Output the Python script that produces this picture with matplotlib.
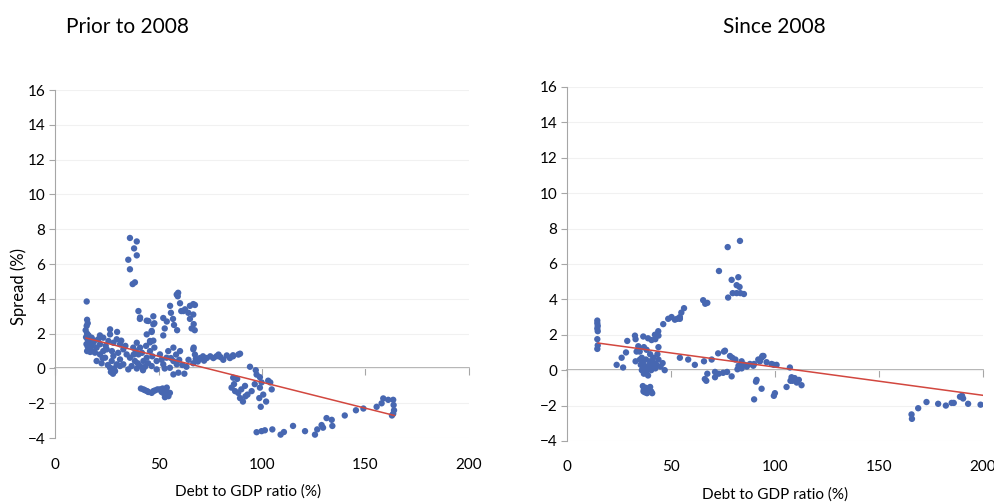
import numpy as np
import matplotlib.pyplot as plt

plt.rcParams['font.family'] = ['Lato', 'DejaVu Sans']

# Prior to 2008: (debt/GDP %, spread %)
prior_col15 = [(15.3, 3.85), (15.5, 2.8), (15.8, 2.6), (15.3, 2.45), (14.8, 2.2), (15.5, 2.0),
               (16.2, 1.9), (15.0, 1.8), (15.8, 1.65), (16.5, 1.5), (15.2, 1.4), (15.8, 1.25),
               (16.4, 1.1), (15.5, 1.0), (17.0, 0.95)]
prior_low = [(17.7, 1.77), (18.5, 1.48), (17.7, 1.29), (19.3, 0.91), (20.1, 1.2), (20.1, 0.43),
             (20.9, 1.68), (21.7, 1.39), (21.7, 0.81), (21.7, 1.9), (23.3, 1.77), (23.3, 1.0),
             (24.2, 0.62), (25.0, 1.1), (25.8, 1.58), (26.6, 1.96), (26.6, 2.25), (26.6, 0.04),
             (27.4, 0.43), (28.2, 1.48), (28.2, 0.72), (29.0, -0.15), (29.8, 1.68), (29.8, 0.24),
             (31.4, 1.39), (31.4, 0.52), (31.4, 0.14), (33.0, 1.1), (33.0, 0.24), (34.6, 0.81),
             (35.4, -0.05), (36.2, 0.62), (37.0, 0.14), (22.5, 0.3), (24.5, 1.3), (27.5, 1.0),
             (30.5, 0.9), (32.0, 1.6), (34.0, 1.3), (19.0, 1.6), (18.0, 1.0), (30.0, 2.1),
             (28.5, 0.0), (25.5, 0.2), (23.0, 0.6), (27.0, -0.2), (28.0, -0.3)]
prior_mid = [(37.8, 1.2), (39.5, 1.48), (41.1, 1.2), (40.3, 0.81), (38.6, 0.43), (41.1, 0.14),
             (42.7, 0.43), (44.3, 0.62), (45.9, 1.0), (45.9, 1.58), (44.3, 1.96), (46.7, 2.16),
             (47.5, 2.54), (41.1, 2.93), (45.1, 2.73), (49.1, 0.43), (46.7, 0.14), (49.1, -0.05),
             (39.0, 1.0), (40.0, 0.3), (42.0, 0.9), (43.5, 0.1), (44.0, 1.3), (47.0, 0.7),
             (48.0, 1.2), (38.0, 0.8), (39.5, 0.0), (42.5, -0.1), (45.0, 0.3)]
prior_peak = [(36.2, 7.5), (39.5, 7.3), (38.2, 6.9), (39.5, 6.5), (35.4, 6.25), (36.2, 5.7),
              (38.6, 4.95), (37.5, 4.85)]
prior_up = [(40.3, 3.3), (41.0, 2.85), (44.3, 2.75), (47.5, 3.0), (48.0, 2.6), (46.7, 2.1),
            (45.9, 1.5), (47.5, 1.6), (52.3, 2.9), (52.3, 1.9), (53.0, 2.3), (54.0, 2.7),
            (55.6, 3.6), (56.0, 3.2), (57.0, 2.85), (58.8, 4.25), (59.5, 4.35), (59.3, 4.15),
            (60.4, 3.75), (61.0, 3.3), (62.8, 3.4), (64.4, 3.2), (65.2, 2.85), (66.0, 2.3),
            (67.6, 3.65), (66.8, 3.1), (57.5, 2.5), (59.0, 2.2), (62.0, 3.3), (65.2, 3.6),
            (66.8, 3.7), (67.0, 2.55), (67.5, 2.2)]
prior_zero = [(50.7, 0.81), (52.3, 0.24), (53.9, 0.62), (55.5, 0.04), (57.2, 0.43), (58.8, 0.24),
              (60.4, 1.0), (59.6, -0.24), (57.2, -0.34), (54.7, 1.0), (57.2, 1.2), (58.5, 0.8),
              (51.5, 0.5), (53.0, 0.0), (56.0, 0.6), (60.0, 0.5), (61.5, 0.2), (62.5, -0.3),
              (63.5, 0.1), (64.5, 0.5)]
prior_neg = [(41.5, -1.15), (42.7, -1.2), (43.5, -1.25), (44.5, -1.3), (45.1, -1.35), (46.7, -1.4),
             (47.5, -1.3), (48.3, -1.26), (49.5, -1.2), (50.7, -1.2), (51.5, -1.35), (52.3, -1.4),
             (53.1, -1.65), (53.9, -1.3), (54.8, -1.59), (55.5, -1.4), (54.0, -1.1), (52.0, -1.15)]
prior_band = [(66.8, 1.1), (67.6, 0.8), (66.8, 0.3), (68.0, 0.55), (70.0, 0.6), (71.5, 0.7),
              (73.3, 0.6), (75.0, 0.7), (76.5, 0.6), (78.0, 0.7), (79.0, 0.8), (80.0, 0.65),
              (81.3, 0.5), (83.0, 0.75), (84.5, 0.6), (86.0, 0.7), (88.6, 0.8), (86.0, 0.76),
              (89.4, 0.85), (69.0, 0.4), (72.0, 0.45), (67.0, 1.2)]
prior_dip = [(85.3, -1.1), (87.0, -1.3), (88.0, -0.6), (89.4, -1.7), (90.8, -1.9), (91.8, -1.0),
             (93.0, -1.5), (94.2, 0.1), (97.0, -0.1), (97.4, -0.35), (99.0, -0.5), (99.8, -0.8),
             (99.0, -1.1), (98.7, -1.7), (100.6, -1.5), (99.4, -2.2), (102.0, -1.9), (103.0, -0.7),
             (104.0, -0.8), (104.7, -1.2), (86.5, -0.9), (88.5, -1.4), (90.0, -1.2), (92.0, -1.6),
             (95.0, -1.3), (96.5, -0.9), (86.1, -0.53)]
prior_tail = [(97.4, -3.66), (99.8, -3.6), (101.4, -3.55), (105.0, -3.5), (109.0, -3.8),
              (110.6, -3.65), (115.0, -3.3), (120.8, -3.6), (125.6, -3.8), (126.7, -3.5),
              (128.8, -3.25), (129.5, -3.4), (131.2, -2.85), (133.7, -2.95), (134.0, -3.3),
              (140.0, -2.7), (145.4, -2.4), (149.0, -2.3), (155.4, -2.2), (157.8, -2.0),
              (158.6, -1.72), (161.0, -1.8), (163.4, -1.8), (163.6, -2.1), (163.8, -2.4),
              (163.4, -2.6), (162.8, -2.7)]

# Since 2008
since_col15 = [(14.6, 2.8), (14.6, 2.65), (14.8, 2.5), (14.6, 2.35), (14.8, 2.2), (14.6, 1.75),
               (14.8, 1.4), (14.6, 1.2)]
since_low = [(23.9, 0.3), (26.3, 0.7), (27.0, 0.15), (28.4, 1.0), (29.0, 1.65), (32.7, 1.95),
             (33.0, 1.75), (34.3, 1.35), (33.5, 1.05), (35.0, 1.05), (35.1, 0.6), (33.0, 0.5),
             (36.7, 1.9), (38.3, 1.15), (39.0, 1.8), (40.7, 1.7), (42.3, 2.0), (43.9, 2.2),
             (42.5, 1.75), (44.0, 1.95), (44.0, 1.3), (43.5, 0.9)]
since_dense = [(35.5, 0.3), (36.0, 0.0), (36.5, 0.4), (37.0, -0.2), (37.5, 0.2), (38.0, 0.6),
               (38.5, 0.1), (39.0, -0.3), (39.5, 0.3), (40.0, 0.5), (40.5, 0.0), (41.0, 0.2),
               (41.5, 0.7), (42.0, 0.4), (42.5, 0.1), (43.0, 0.3), (44.0, 0.6), (45.0, 0.2),
               (46.0, 0.4), (47.0, 0.0), (36.0, 0.7), (38.0, -0.1), (40.0, 0.9), (37.0, 1.3)]
since_neg = [(36.5, -0.9), (37.0, -1.1), (37.5, -1.25), (38.0, -1.0), (38.5, -1.3), (39.5, -1.15),
             (40.0, -0.95), (40.5, -1.2), (41.0, -1.3), (36.8, -1.2)]
since_rise = [(46.3, 2.6), (48.7, 2.9), (50.3, 3.0), (51.9, 2.85), (53.0, 2.9), (54.3, 3.0),
              (55.0, 3.25), (56.3, 3.5), (54.3, 2.9), (65.5, 3.95), (66.5, 3.75), (67.5, 3.8)]
since_peak = [(73.1, 5.6), (77.3, 6.95), (83.2, 7.3), (79.2, 5.1), (82.4, 5.25), (81.6, 4.8),
              (83.0, 4.7), (77.5, 4.1), (79.7, 4.35), (81.6, 4.35), (83.4, 4.35), (85.1, 4.3)]
since_mid = [(54.3, 0.7), (58.3, 0.6), (61.5, 0.3), (65.9, 0.5), (69.6, 0.6), (72.7, 0.95),
             (76.0, 1.1), (78.4, 0.8), (79.5, 0.7), (66.3, -0.5), (67.0, -0.6), (67.5, -0.2),
             (71.2, -0.1), (71.2, -0.4), (75.1, -0.15), (77.0, -0.1), (79.2, -0.35), (73.0, -0.2),
             (83.2, 0.2), (84.0, 0.5), (85.5, 0.3), (86.5, 0.2), (88.0, 0.35), (90.0, 0.35),
             (92.0, 0.6), (94.0, 0.8), (96.0, 0.45), (75.5, 1.05), (81.0, 0.6), (82.5, 0.25),
             (82.0, 0.05), (84.0, 0.1), (89.6, 0.25), (92.8, 0.5)]
since_right = [(90.9, -0.65), (93.6, -1.05), (90.0, -1.65), (91.2, -0.55), (100.0, -1.3),
               (93.6, 0.7), (94.5, 0.8), (98.4, 0.35), (99.5, 0.3), (100.8, 0.3), (107.2, 0.15),
               (99.5, -1.45), (105.6, -0.95), (108.0, -0.4), (108.5, -0.6), (109.5, -0.45),
               (110.5, -0.7), (112.8, -0.85), (111.5, -0.55), (107.5, -0.6)]
since_tail = [(165.7, -2.5), (165.9, -2.75), (168.9, -2.15), (172.9, -1.8), (178.5, -1.9),
              (182.2, -2.0), (185.0, -1.85), (186.0, -1.85), (189.0, -1.5), (190.5, -1.6),
              (192.9, -1.9), (198.9, -1.95), (190.0, -1.45)]

prior = np.array(prior_col15 + prior_low + prior_mid + prior_peak + prior_up + prior_zero
                 + prior_neg + prior_band + prior_dip + prior_tail)
since = np.array(since_col15 + since_low + since_dense + since_neg + since_rise + since_peak
                 + since_mid + since_right + since_tail)

# trend lines (end points)
prior_trend_x = [15, 164]
prior_trend_y = [1.75, -2.7]
since_trend_x = [15, 200]
since_trend_y = [1.53, -1.42]

titles = ['Prior to 2008', 'Since 2008']
x_ticks = [0, 50, 100, 150, 200]
y_ticks = list(range(-4, 17, 2))

blue = '#4767b1'
red = '#d2473f'
gray = '#a6a6a6'

fig = plt.figure(figsize=(9.95, 5.03), dpi=100)
ax1 = fig.add_axes([0.0553, 0.129, 0.416, 0.692])
ax2 = fig.add_axes([0.5698, 0.1233, 0.418, 0.704])

panels = [(ax1, prior, prior_trend_x, prior_trend_y), (ax2, since, since_trend_x, since_trend_y)]
for ax, pts, tx, ty in panels:
    ax.scatter(pts[:, 0], pts[:, 1], s=21, color=blue, edgecolors='none', zorder=3)
    ax.plot(tx, ty, color=red, lw=1.1, zorder=4)
    ax.set_xlim(0, 200)
    ax.set_ylim(-4, 16)
    ax.set_yticks(y_ticks)
    ax.set_xticks(x_ticks)
    ax.yaxis.grid(True, color='#f1f1f1', lw=0.8)
    ax.set_axisbelow(True)
    for s in ['top', 'right', 'bottom']:
        ax.spines[s].set_visible(False)
    ax.spines['left'].set_color(gray)
    ax.tick_params(axis='y', length=4, color=gray, labelsize=11, pad=3)
    ax.tick_params(axis='x', length=0, labelsize=11, pad=14)
    # horizontal axis line at y = 0 with tick marks
    sec = ax.secondary_xaxis(0.2)
    sec.spines['bottom'].set_color(gray)
    sec.spines['bottom'].set_linewidth(1.2)
    sec.set_xticks(x_ticks)
    sec.tick_params(axis='x', length=5, color=gray, labelbottom=False)

fig.text(0.249, 0.022, 'Debt to GDP ratio (%)', fontsize=11, ha='center', va='center')
fig.text(0.779, 0.016, 'Debt to GDP ratio (%)', fontsize=11, ha='center', va='center')
fig.text(0.019, 0.43, 'Spread (%)', fontsize=12, rotation=90, ha='center', va='center')

fig.text(0.128, 0.946, titles[0], fontsize=15, ha='center', va='center')
fig.text(0.778, 0.946, titles[1], fontsize=15, ha='center', va='center')

fig.savefig('out.png', dpi=100)
